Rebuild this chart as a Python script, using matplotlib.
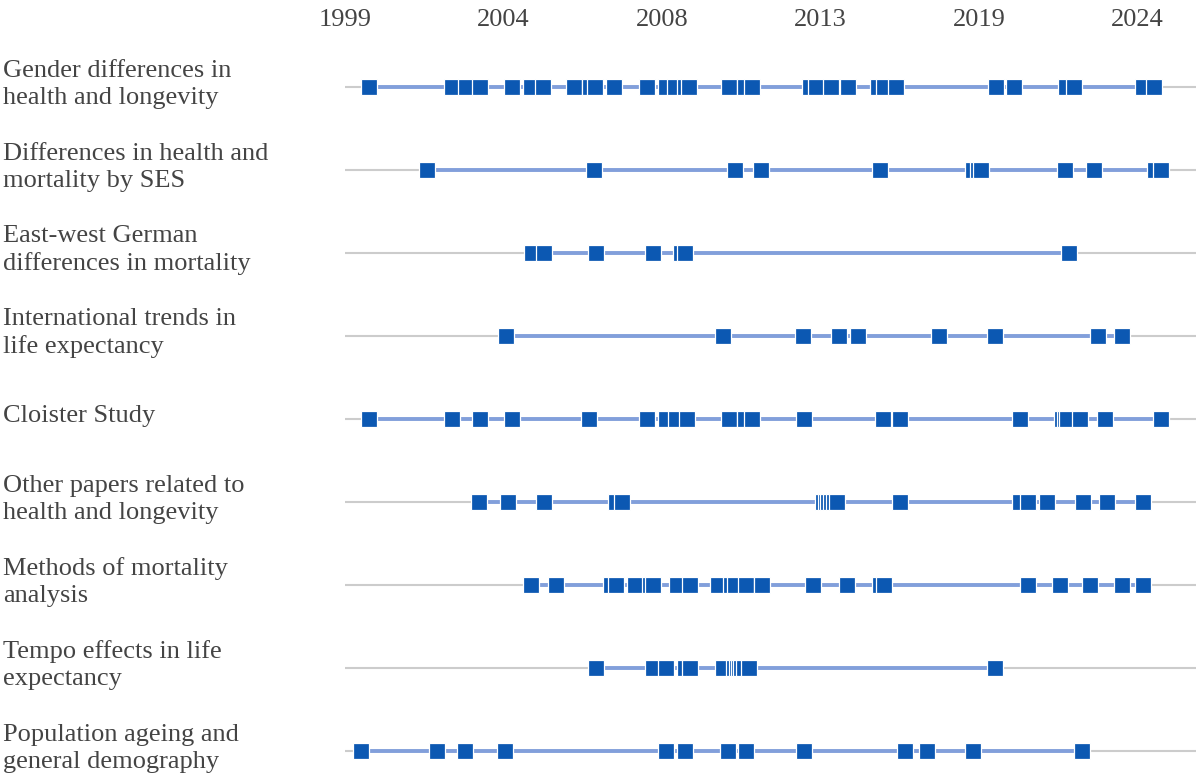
import matplotlib
matplotlib.use('Agg')
import matplotlib.pyplot as plt

# Research topics (row labels, top to bottom)
topics = [
    'Gender differences in\nhealth and longevity',
    'Differences in health and\nmortality by SES',
    'East-west German\ndifferences in mortality',
    'International trends in\nlife expectancy',
    'Cloister Study',
    'Other papers related to\nhealth and longevity',
    'Methods of mortality\nanalysis',
    'Tempo effects in life\nexpectancy',
    'Population ageing and\ngeneral demography',
]

# publication dates (decimal years) per topic
gender = [1999.75, 2002.38, 2002.83, 2003.27, 2004.27, 2004.86, 2005.25, 2006.22,
          2006.73, 2006.89, 2007.49, 2008.53, 2009.13, 2009.41, 2009.73, 2009.85,
          2011.11, 2011.61, 2011.83, 2013.67, 2013.87, 2014.32, 2014.88, 2015.82,
          2016.00, 2016.38, 2019.54, 2020.10, 2021.74, 2022.00, 2024.18, 2024.52]
ses = [2001.58, 2006.85, 2011.31, 2012.13, 2015.88, 2018.81, 2018.98, 2019.07,
       2021.71, 2022.63, 2024.54, 2024.73]
east_west = [2004.89, 2005.28, 2006.91, 2008.71, 2009.61, 2009.73, 2021.85]
international = [2004.09, 2010.93, 2013.46, 2014.57, 2015.19, 2017.75, 2019.50,
                 2022.76, 2023.50]
cloister = [1999.75, 2002.38, 2003.27, 2004.27, 2006.71, 2008.54, 2009.14, 2009.43,
            2009.78, 2011.10, 2011.61, 2011.83, 2013.48, 2015.98, 2016.51, 2020.29,
            2021.62, 2021.70, 2021.79, 2022.19, 2022.97, 2024.73]
other = [2003.23, 2004.13, 2005.28, 2007.54, 2007.75, 2014.08, 2014.16, 2014.25,
         2014.33, 2014.43, 2014.53, 2016.52, 2020.29, 2020.56, 2021.14, 2022.29,
         2023.03, 2024.18]
methods = [2004.86, 2005.65, 2007.38, 2007.54, 2008.14, 2008.61, 2008.71, 2009.48,
           2009.88, 2010.78, 2011.18, 2011.30, 2011.66, 2012.15, 2013.77, 2014.85,
           2015.87, 2016.00, 2020.56, 2021.56, 2022.49, 2023.51, 2024.18]
tempo = [2006.91, 2008.71, 2009.14, 2009.73, 2009.88, 2010.93, 2011.28, 2011.36,
         2011.43, 2011.50, 2011.60, 2011.74, 2019.50]
population = [1999.50, 2001.89, 2002.78, 2004.06, 2009.14, 2009.73, 2011.09, 2011.64,
              2013.48, 2016.67, 2017.36, 2018.81, 2022.24]

series = [gender, ses, east_west, international, cloister, other, methods, tempo, population]

# top axis ticks
tick_years = [1999, 2004, 2009, 2014, 2019, 2024]
tick_labels = ['1999', '2004', '2008', '2013', '2019', '2024']

text_color = '#444444'
marker_color = '#0c58b2'
line_color = '#829fdb'
base_color = '#cccccc'
font = ['Liberation Serif', 'DejaVu Serif']

fig = plt.figure(figsize=(11.98, 7.84), dpi=100)
ax = fig.add_axes([345 / 1198, 0, 851 / 1198, 739 / 784])

# labels: x in figure coords, y in data coords
label_trans = ax.get_yaxis_transform().__class__(fig.transFigure, ax.transData)

for i, dates in enumerate(series):
    ax.axhline(i, color=base_color, lw=1.5, zorder=1)
    ax.plot([min(dates), max(dates)], [i, i], color=line_color, lw=2.8,
            solid_capstyle='butt', zorder=2)
    ax.plot(dates, [i] * len(dates), linestyle='none', marker='s', markersize=11,
            markerfacecolor=marker_color, markeredgecolor='white',
            markeredgewidth=0.9, zorder=3)
    fig.text(3 / 1198, i - 0.035, topics[i], transform=label_trans,
             ha='left', va='center', fontsize=19, color=text_color,
             family=font, linespacing=1.3)

ax.set_xlim(1999, 1999 + 851 / 31.7)
ax.set_ylim(8.398, -0.506)
ax.xaxis.tick_top()
ax.set_xticks(tick_years)
ax.set_xticklabels(tick_labels, fontsize=19, color=text_color, family=font)
ax.tick_params(axis='x', length=0, pad=10)
ax.set_yticks([])
for s in ax.spines.values():
    s.set_visible(False)

fig.savefig('out.png', dpi=100, facecolor='white')
